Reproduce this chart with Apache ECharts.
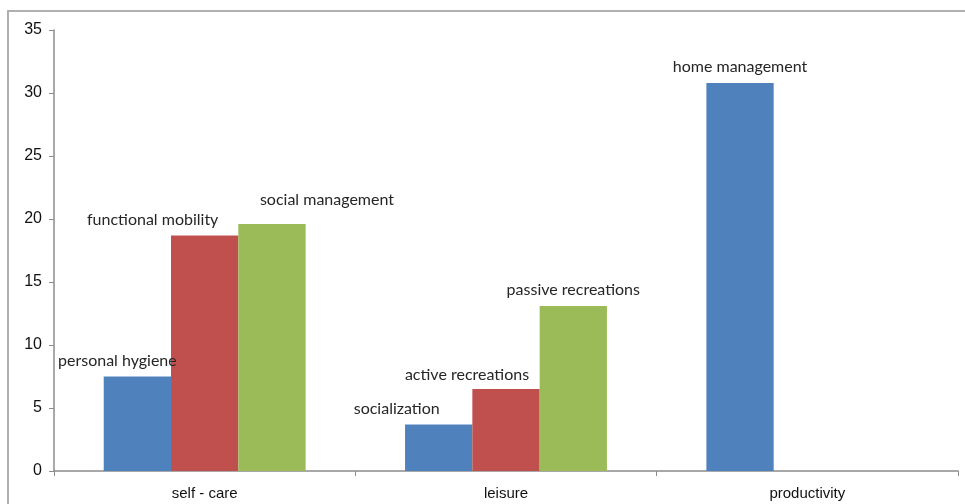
<!DOCTYPE html>
<html><head><meta charset="utf-8">
<script src="https://cdn.jsdelivr.net/npm/echarts@6/dist/echarts.min.js"></script>
<style>html,body{margin:0;padding:0;background:#fff}#c{width:965px;height:504px}</style>
</head><body><div id="c"></div>
<script>
const categories = ['self - care', 'leisure', 'productivity'];
const blueValues = [7.5, 3.7, 30.8];
const redValues = [18.7, 6.5, null];
const greenValues = [19.6, 13.1, null];
const blueLabels = ['personal hygiene', 'socialization', 'home management'];
const redLabels = ['functional mobility', 'active recreations', ''];
const greenLabels = ['social management', 'passive recreations', ''];
const yTicks = [0, 5, 10, 15, 20, 25, 30, 35];

// label placement tweaks (styling only)
const blueOffsets = [[-20, 0], [-42, 0], [0, 0]];
const redOffsets = [[-52, 0], [-39, 2], [0, 0]];
const greenOffsets = [[55, -8], [0, 0], [0, 0]];

function build(values, labels, offsets) {
  return values.map((v, i) => ({
    value: v,
    label: { show: v != null, formatter: labels[i], offset: offsets[i] }
  }));
}
const labelStyle = { position: 'top', distance: 8, color: '#262626', fontFamily: 'Lato', fontSize: 16 };

const chart = echarts.init(document.getElementById('c'), null, { renderer: 'canvas' });
chart.setOption({
  animation: false,
  backgroundColor: '#fff',
  graphic: [{ type: 'rect', shape: { x: 8, y: 11, width: 980, height: 520 }, style: { fill: 'none', stroke: '#b0b0b0', lineWidth: 2 }, silent: true }],
  grid: { left: 54, right: 7, top: 30, bottom: 33 },
  xAxis: {
    type: 'category', data: categories,
    axisLine: { lineStyle: { color: '#8c8c8c', width: 1.5 } },
    axisTick: { show: true, length: 5, lineStyle: { color: '#8c8c8c' } },
    axisLabel: { color: '#111', fontFamily: 'Liberation Sans', fontSize: 15, margin: 15 }
  },
  yAxis: {
    type: 'value', min: 0, max: 35, interval: 5,
    axisLine: { show: true, lineStyle: { color: '#8c8c8c', width: 1.5 } },
    axisTick: { show: true, length: 5, lineStyle: { color: '#8c8c8c' } },
    splitLine: { show: false },
    axisLabel: { color: '#111', fontFamily: 'Liberation Sans', fontSize: 16, margin: 12,
      formatter: v => yTicks.includes(v) ? String(v) : '' }
  },
  series: [
    { type: 'bar', name: 'blue', data: build(blueValues, blueLabels, blueOffsets), itemStyle: { color: '#4F81BD' }, barGap: '0%', barCategoryGap: '33%', label: labelStyle },
    { type: 'bar', name: 'red', data: build(redValues, redLabels, redOffsets), itemStyle: { color: '#C0504D' }, barGap: '0%', barCategoryGap: '33%', label: labelStyle },
    { type: 'bar', name: 'green', data: build(greenValues, greenLabels, greenOffsets), itemStyle: { color: '#9BBB59' }, barGap: '0%', barCategoryGap: '33%', label: labelStyle }
  ]
});
</script></body></html>
